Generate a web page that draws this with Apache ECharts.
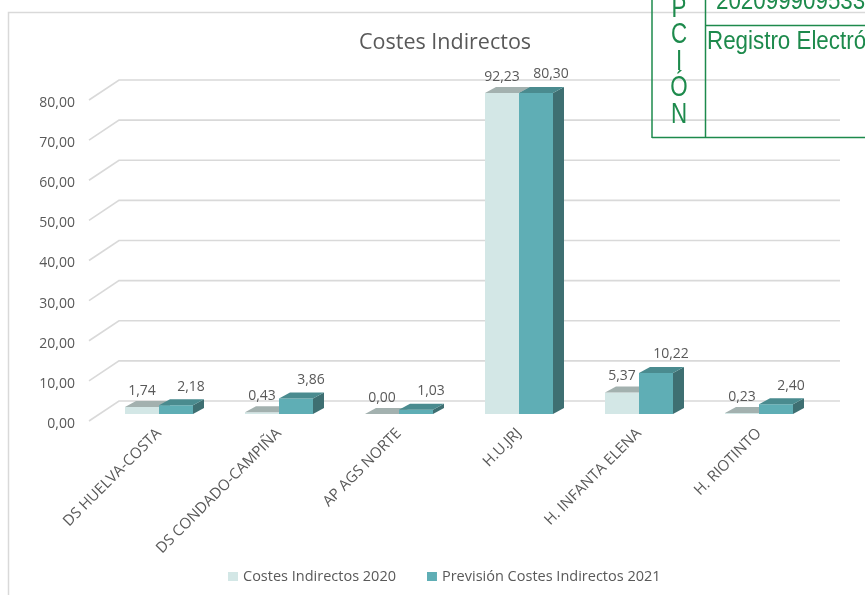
<!DOCTYPE html>
<html><head><meta charset="utf-8">
<script src="https://cdn.jsdelivr.net/npm/echarts@6/dist/echarts.min.js"></script>
<style>html,body{margin:0;padding:0;background:#fff}#c{width:865px;height:595px}</style>
</head><body><div id="c"></div>
<script>
const categories = ['DS HUELVA-COSTA','DS CONDADO-CAMPIÑA','AP AGS NORTE','H.U.JRJ','H. INFANTA ELENA','H. RIOTINTO'];
const costes2020 = [1.74, 0.43, 0.00, 92.23, 5.37, 0.23];
const prevision2021 = [2.18, 3.86, 1.03, 80.30, 10.22, 2.40];
const yTicks = [0,10,20,30,40,50,60,70,80];
const seriesNames = ['Costes Indirectos 2020','Previsión Costes Indirectos 2021'];
const chartTitle = 'Costes Indirectos';

const FONT = '"Open Sans", Lato, sans-serif';
const NARROW = '"Liberation Sans", Arial, sans-serif';
const GREEN = '#1d8a4c';
const TXT = '#595959';
const YMAX = 80;
const BAR_W = 34;
const DEPTH = [11, -6];
const fmt = v => v.toFixed(2).replace('.', ',');

function barRenderer(side, colors) {
  return function(params, api) {
    const i = api.value(0);
    const raw = api.value(1);
    const v = Math.min(raw, YMAX);
    const base = api.coord([i, 0]);
    const top = api.coord([i, v]);
    const cx = base[0];
    const x0 = side === 0 ? cx - BAR_W : cx;
    const x1 = x0 + BAR_W;
    const yb = base[1], yt = top[1];
    const dx = DEPTH[0], dy = DEPTH[1];
    const lx = x0 + BAR_W / 2 + (side === 0 ? 0 : 15);
    const ly = yt - (side === 0 ? 16 : 18.5);
    return {
      type: 'group',
      children: [
        {type:'polygon', shape:{points:[[x1,yb],[x1+dx,yb+dy],[x1+dx,yt+dy],[x1,yt]]}, style:{fill:colors.side}},
        {type:'rect', shape:{x:x0, y:yt, width:BAR_W, height:Math.max(yb-yt,0)}, style:{fill:colors.front}},
        {type:'polygon', shape:{points:[[x0,yt],[x1,yt],[x1+dx,yt+dy],[x0+dx,yt+dy]]}, style:{fill:colors.top}},
        {type:'text', style:{text: fmt(raw), x: lx, y: ly, align:'center', verticalAlign:'middle',
          fill: TXT, font: '14px ' + FONT}}
      ]
    };
  };
}

function gridRenderer(params, api) {
  const v = api.value(1);
  const p = api.coord([0, v]);
  const cs = params.coordSys;
  const xf = cs.x - 10, xb = cs.x + 20, xe = cs.x + cs.width + 21;
  const yf = p[1] + 7, yb = p[1] - 13;
  return {
    type: 'polyline',
    shape: {points: [[xf, yf], [xb, yb], [xe, yb]]},
    style: {stroke: '#d9d9d9', lineWidth: 1.6, fill: null}
  };
}

const chart = echarts.init(document.getElementById('c'), null, {renderer: 'canvas'});
const vLetters = ['P','C','I','Ó','N'];
const SX = 0.86;
const stampGraphics = [
  {type:'rect', shape:{x:8.5, y:12.5, width:900, height:700}, style:{fill:null, stroke:'#d9d9d9', lineWidth:1.5}, z:-10},
  {type:'line', shape:{x1:652, y1:-2, x2:652, y2:138}, style:{stroke:GREEN, lineWidth:1.5}, z:100},
  {type:'line', shape:{x1:705.5, y1:-2, x2:705.5, y2:138}, style:{stroke:GREEN, lineWidth:1.5}, z:100},
  {type:'line', shape:{x1:652, y1:137.5, x2:870, y2:137.5}, style:{stroke:GREEN, lineWidth:1.5}, z:100},
  {type:'line', shape:{x1:705.5, y1:25.5, x2:870, y2:25.5}, style:{stroke:GREEN, lineWidth:1.5}, z:100},
  {type:'text', x:716, y:2, scaleX:SX, style:{text:'2020999095335', font:'26px ' + NARROW, fill:GREEN, verticalAlign:'middle'}, z:100},
  {type:'text', x:707, y:42, scaleX:SX, style:{text:'Registro Electrónico', font:'26px ' + NARROW, fill:GREEN, verticalAlign:'middle'}, z:100}
];
vLetters.forEach((ch, k) => {
  stampGraphics.push({type:'text', x:679, y:9 + k * 26.5, scaleX:SX, scaleY:1.1,
    style:{text:ch, font:'26px ' + NARROW, fill:GREEN, align:'center', verticalAlign:'middle'}, z:100});
});

chart.setOption({
  animation: false,
  backgroundColor: '#fff',
  title: {
    text: chartTitle, left: 354, top: 27,
    textStyle: {fontFamily: FONT, fontSize: 21.5, fontWeight: 'normal', color: TXT}
  },
  legend: {
    left: 228, top: 569, padding: 0,
    itemWidth: 10, itemHeight: 9, itemGap: 31,
    textStyle: {fontFamily: FONT, fontSize: 14.5, color: TXT},
    data: [{name: seriesNames[0], icon: 'rect'}, {name: seriesNames[1], icon: 'rect'}]
  },
  grid: {left: 99, top: 93, width: 720, bottom: 181, containLabel: false},
  xAxis: {
    type: 'category', data: categories, boundaryGap: true,
    axisLine: {show: false}, axisTick: {show: false}, splitLine: {show: false},
    axisLabel: {interval: 0, rotate: 45, margin: 17, fontFamily: FONT, fontSize: 15, color: TXT}
  },
  yAxis: {
    type: 'value', min: 0, max: YMAX, interval: 10,
    axisLine: {show: false}, axisTick: {show: false}, splitLine: {show: false},
    axisLabel: {formatter: v => fmt(v), margin: 24, verticalAlign: 'top', lineHeight: 20,
      fontFamily: FONT, fontSize: 14, color: TXT}
  },
  graphic: stampGraphics,
  series: [
    {type: 'custom', name: '_grid', silent: true, z: 1, renderItem: gridRenderer,
      data: yTicks.map(v => [0, v])},
    {type: 'custom', name: seriesNames[0], z: 2, itemStyle: {color: '#d3e7e6'},
      renderItem: barRenderer(0, {front: '#d3e7e6', top: '#a3b1af', side: '#8fa3a1'}),
      data: costes2020.map((v, i) => [i, v])},
    {type: 'custom', name: seriesNames[1], z: 3, itemStyle: {color: '#5faeb5'},
      renderItem: barRenderer(1, {front: '#5faeb5', top: '#4a8b8f', side: '#3e6f72'}),
      data: prevision2021.map((v, i) => [i, v])}
  ]
});
</script></body></html>
